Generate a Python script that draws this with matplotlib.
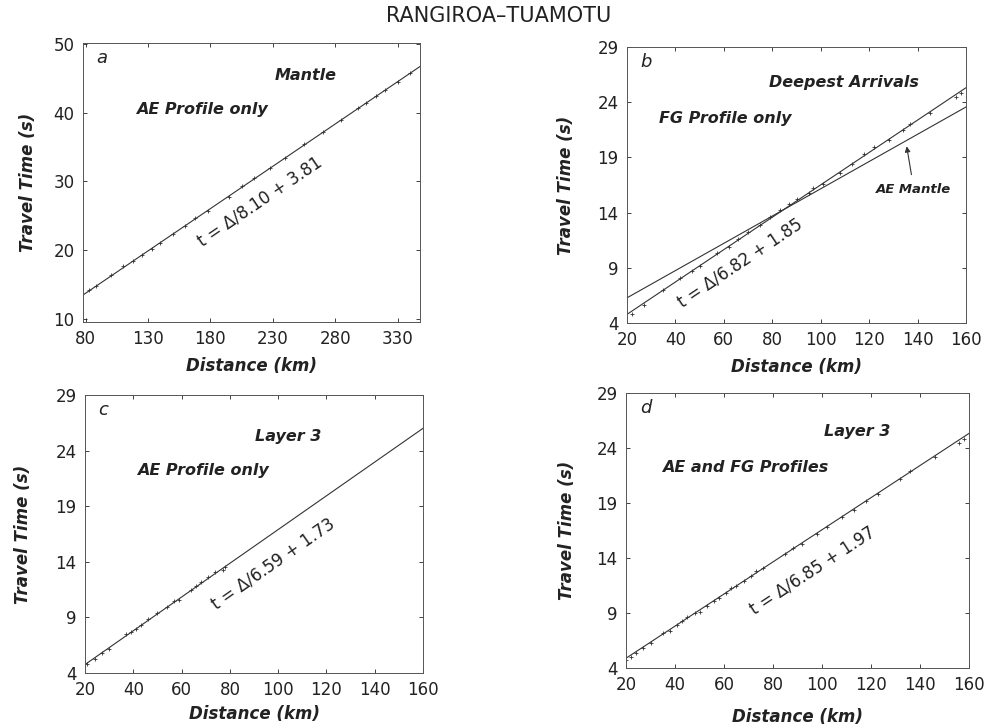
import numpy as np
import matplotlib.pyplot as plt

plt.rcParams['font.family'] = ['DejaVu Sans']

# travel-time picks (distance km, time s) read per panel
dist_a = [83, 88, 100, 110, 118, 125, 133, 140, 150, 160, 168, 178, 195, 205,
          215, 228, 240, 255, 270, 285, 298, 305, 313, 320, 330, 340]
time_a = [14.2, 14.8, 16.3, 17.6, 18.4, 19.3, 20.2, 21.0, 22.3, 23.5, 24.6,
          25.7, 27.8, 29.3, 30.5, 31.9, 33.4, 35.4, 37.2, 39.0, 40.7, 41.4,
          42.5, 43.4, 44.5, 45.8]

dist_b = [22, 27, 35, 42, 47, 50, 57, 62, 66, 70, 75, 79, 83, 87, 90, 95, 97,
          101, 108, 113, 118, 122, 128, 134, 137, 145, 156, 158]
time_b = [4.8, 5.6, 7.0, 8.1, 8.7, 9.2, 10.3, 10.9, 11.6, 12.2, 12.9, 13.6,
          14.2, 14.8, 15.2, 15.8, 16.2, 16.6, 17.6, 18.4, 19.3, 19.9, 20.6,
          21.5, 22.0, 23.0, 24.5, 24.8]

dist_c = [21, 24, 27, 30, 37, 39, 41, 43, 46, 50, 54, 57, 59, 64, 66, 68, 71,
          74, 77, 78]
time_c = [4.8, 5.3, 5.8, 6.2, 7.5, 7.7, 8.0, 8.3, 8.9, 9.4, 9.9, 10.5, 10.6,
          11.5, 11.8, 12.2, 12.6, 13.1, 13.3, 13.5]

dist_d = [20, 22, 24, 27, 30, 35, 38, 41, 43, 45, 48, 50, 53, 56, 58, 61, 63,
          65, 68, 71, 73, 76, 85, 88, 92, 98, 102, 108, 113, 118, 123, 132,
          136, 146, 156, 158]
time_d = [4.7, 5.0, 5.4, 5.8, 6.3, 7.2, 7.4, 7.9, 8.3, 8.6, 9.0, 9.1, 9.6,
          10.1, 10.4, 10.8, 11.3, 11.5, 11.9, 12.4, 12.8, 13.1, 14.4, 14.9,
          15.3, 16.2, 16.8, 17.7, 18.4, 19.2, 19.8, 21.2, 21.9, 23.2, 24.5,
          24.8]

# fitted apparent velocity (km/s) and intercept (s)
vel = {'a': 8.10, 'b': 6.82, 'c': 6.59, 'd': 6.85}
icpt = {'a': 3.81, 'b': 1.85, 'c': 1.73, 'd': 1.97}

xticks_a = [80, 130, 180, 230, 280, 330]
yticks_a = [10, 20, 30, 40, 50]
xticks_km = [20, 40, 60, 80, 100, 120, 140, 160]
yticks_s = [4, 9, 14, 19, 24, 29]

fig = plt.figure(figsize=(9.97, 7.25), dpi=100)
fig.text(0.5, 0.978, 'RANGIROA\u2013TUAMOTU', ha='center', va='center',
         fontsize=15, color='#222222')

ax_a = fig.add_axes([0.0833, 0.5559, 0.338, 0.3848])
ax_b = fig.add_axes([0.6289, 0.5545, 0.340, 0.3807])
ax_c = fig.add_axes([0.0853, 0.0717, 0.339, 0.3834])
ax_d = fig.add_axes([0.6279, 0.0786, 0.344, 0.3793])

ink = '#333333'
lab = dict(fontsize=12, fontstyle='italic', fontweight='bold',
           color='#222222')
note = dict(fontsize=11.5, fontstyle='italic', fontweight='bold',
            color='#222222', ha='center', va='center')


def fit_line(ax, key, xlim, **kw):
    xs = np.array(xlim)
    ax.plot(xs, xs / vel[key] + icpt[key], color=ink, lw=0.8, **kw)


def formula(ax, key, x, y):
    ang = np.degrees(np.arctan(1.0 / vel[key]))
    txt = 't = \u0394/%.2f + %.2f' % (vel[key], icpt[key])
    ax.text(x, y, txt, rotation=ang, transform_rotates_text=True,
            rotation_mode='anchor', ha='center', va='center',
            fontsize=12, color='#222222')


def style(ax, xlim, ylim, xt, yt, letter, ypad=8, xpad=6):
    ax.set_xlim(xlim)
    ax.set_ylim(ylim)
    ax.set_xticks(xt)
    ax.set_yticks(yt)
    ax.tick_params(direction='in', top=True, right=True, length=3,
                   width=0.6, labelsize=12, colors='#222222', pad=6)
    for s in ax.spines.values():
        s.set_linewidth(0.7)
        s.set_color('#555555')
    ax.set_xlabel('Distance (km)', labelpad=xpad, **lab)
    ax.set_ylabel('Travel Time (s)', labelpad=ypad, **lab)
    ax.text(0.04, 0.945, letter, transform=ax.transAxes, fontsize=13,
            fontstyle='italic', ha='left', va='center', color='#222222')


# a: mantle
style(ax_a, (78, 348), (9.5, 50.2), xticks_a, yticks_a, 'a', ypad=12)
fit_line(ax_a, 'a', (78, 348))
ax_a.plot(dist_a, time_a, '+', ms=3, mew=0.6, color=ink)
ax_a.text(0.66, 0.885, 'Mantle', transform=ax_a.transAxes, **note)
ax_a.text(0.353, 0.76, 'AE Profile only', transform=ax_a.transAxes, **note)
formula(ax_a, 'a', 220, 27.0)

# b: deepest arrivals, with AE mantle line for comparison
style(ax_b, (20, 160), (4, 29), xticks_km, yticks_s, 'b', ypad=16)
fit_line(ax_b, 'b', (20, 160))
fit_line(ax_b, 'a', (20, 160))
ax_b.plot(dist_b, time_b, '+', ms=3, mew=0.6, color=ink)
ax_b.text(0.64, 0.87, 'Deepest Arrivals', transform=ax_b.transAxes, **note)
ax_b.text(0.29, 0.74, 'FG Profile only', transform=ax_b.transAxes, **note)
ax_b.annotate('AE Mantle', xy=(135.5, 20.0), xytext=(138.5, 16.1),
              fontsize=9.5, fontstyle='italic', fontweight='bold',
              ha='center', va='center', color='#222222',
              arrowprops=dict(arrowstyle='-|>', color=ink, lw=0.8,
                              shrinkA=4, shrinkB=0, mutation_scale=8))
formula(ax_b, 'b', 66.7, 9.4)

# c: layer 3, AE only
style(ax_c, (20, 160), (4, 29), xticks_km, yticks_s, 'c', ypad=17, xpad=4)
fit_line(ax_c, 'c', (20, 160))
ax_c.plot(dist_c, time_c, '+', ms=3, mew=0.6, color=ink)
ax_c.text(0.60, 0.85, 'Layer 3', transform=ax_c.transAxes, **note)
ax_c.text(0.35, 0.73, 'AE Profile only', transform=ax_c.transAxes, **note)
formula(ax_c, 'c', 97.9, 13.8)

# d: layer 3, both profiles
style(ax_d, (20, 160), (4, 29), xticks_km, yticks_s, 'd', ypad=15, xpad=10)
fit_line(ax_d, 'd', (20, 160))
ax_d.plot(dist_d, time_d, '+', ms=3, mew=0.6, color=ink)
ax_d.text(0.673, 0.86, 'Layer 3', transform=ax_d.transAxes, **note)
ax_d.text(0.347, 0.73, 'AE and FG Profiles', transform=ax_d.transAxes, **note)
formula(ax_d, 'd', 95.9, 12.9)

fig.savefig('out.png', dpi=100)
